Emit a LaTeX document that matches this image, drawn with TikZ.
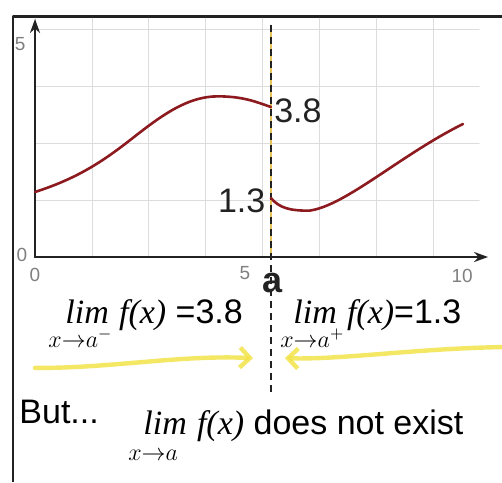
\documentclass[tikz,border=0pt]{standalone}
\usepackage{amsmath}
\usepackage{fontspec}
\setmainfont{Liberation Sans}
\newfontfamily\limfont{Liberation Serif}
\usetikzlibrary{arrows.meta,positioning}
\definecolor{curvered}{HTML}{8C1A1F}
\definecolor{gridgray}{HTML}{DCDCDC}
\definecolor{axisdark}{HTML}{222222}
\definecolor{marker}{HTML}{F2E34A}
\definecolor{dashtint}{HTML}{E8C25A}
\tikzset{
  every picture/.style={line join=round, line cap=round, >=Stealth},
  frameline/.style={axisdark, line width=1.1pt},
  axisline/.style={axisdark, line width=1.2pt, -{Stealth[length=7pt,width=5pt]}},
  graphline/.style={curvered, line width=1.3pt},
  aline/.style={axisdark, line width=0.8pt, dash pattern=on 3.5pt off 2.5pt, line cap=butt},
  ticklab/.style={gray, font=\fontsize{9.5}{11}\selectfont, inner sep=0pt},
  vallab/.style={axisdark, font=\fontsize{17}{20}\selectfont, inner sep=1.5pt},
  limtext/.style={black, font=\fontsize{17}{20}\selectfont, inner sep=0pt},
  subtext/.style={black, font=\fontsize{12}{14}\selectfont, inner sep=0pt, anchor=base west},
  highlight/.style={marker, opacity=0.85, line width=2.2pt, -{Straight Barb[length=5pt,width=10pt]}},
}
\newcommand{\limword}{{\limfont\itshape lim}\hspace{0.3em}}
\newcommand{\fxword}{{\limfont\itshape f(x)}}

\begin{document}
\begin{tikzpicture}[x=21.25pt,y=21.25pt]
\fill[white] (-0.8235,-5.294) rectangle (10.988,6.047);
\useasboundingbox (-0.8235,-5.294) rectangle (10.988,6.047);
% frame of the slide
\coordinate (fbot) at (-0.518,-5.294);
\coordinate (fcorner) at (-0.518,5.66);
\coordinate (fright) at (10.988,5.66);
\draw[frameline, line cap=butt] (fbot) -- (fcorner) -- (fright);
% grid and axes
\draw[gridgray, line width=0.4pt] (0,0) grid (10.45,5.62);
\coordinate (origin) at (0,0);
\coordinate (xend) at (10.66,0);
\coordinate (yend) at (0,5.6);
\draw[axisline] (origin) -- (xend);
\draw[axisline] (origin) -- (yend);
\node[ticklab] (x0) at (0,-0.42) {0};
\node[ticklab] (x5) at (4.94,-0.38) {5};
\node[ticklab] (x10) at (10.05,-0.45) {10};
\node[ticklab] (y0) at (-0.31,0.05) {0};
\node[ticklab] (y5) at (-0.35,5.02) {5};
% x = a
\coordinate (atop) at (5.55,5.45);
\coordinate (amid) at (5.55,0);
\coordinate (abot) at (5.55,-3.25);
\draw[dashtint, line width=0.8pt] (atop) -- (amid);
\draw[aline] (atop) -- (abot);
\node[axisdark, font=\fontsize{18}{20}\selectfont\bfseries, inner sep=0pt] (alab) at (5.58,-0.62) {a};
% the function
\draw[graphline] (0,1.53) .. controls (1,1.85) and (1.6,2.25) .. (2.3,2.8)
  .. controls (3.0,3.35) and (3.6,3.78) .. (4.3,3.78)
  .. controls (4.9,3.78) and (5.2,3.65) .. (5.55,3.53);
\draw[graphline] (5.55,1.39) .. controls (5.75,1.15) and (6.0,1.09) .. (6.45,1.09)
  .. controls (7.3,1.2) and (8.6,2.4) .. (10.07,3.13);
\node[vallab, anchor=west] (left) at (5.55,3.44) {3.8};
\node[vallab, anchor=east] (right) at (5.5,1.32) {1.3};
% one-sided limits
\node[limtext, anchor=base west] (liml) at (0.706,-1.553) {\limword\fxword\ =3.8};
\node[subtext, xshift=-8.5pt, yshift=-12pt] (limlsub) at (liml.base west) {$x{\to}a^{-}$};
\node[limtext, anchor=base west] (limr) at (6.07,-1.553) {\limword\fxword=1.3};
\node[subtext, xshift=-6.5pt, yshift=-12pt] (limrsub) at (limr.base west) {$x{\to}a^{+}$};
\coordinate (hlA) at (0,-2.61);
\coordinate (hlB) at (5.13,-2.38);
\coordinate (hlC) at (10.988,-2.12);
\coordinate (hlD) at (5.88,-2.38);
\draw[highlight] (hlA) .. controls (1.8,-2.62) and (3.4,-2.3) .. (hlB);
\draw[highlight] (hlC) .. controls (9,-2.15) and (7.2,-2.42) .. (hlD);
% conclusion
\node[limtext, anchor=base west] (but) at (-0.376,-3.906) {But...};
\node[limtext, anchor=base west] (limx) at (2.54,-4.165) {\limword\fxword\ does not exist};
\node[subtext, xshift=-7.5pt, yshift=-13pt] (limxsub) at (limx.base west) {$x{\to}a$};
\end{tikzpicture}
\end{document}
